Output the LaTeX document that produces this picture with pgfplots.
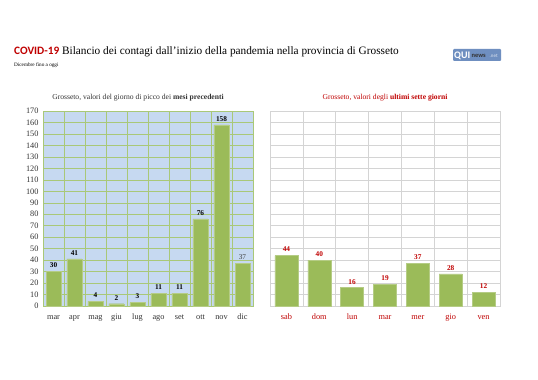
\documentclass[border=0pt]{standalone}
\usepackage{pgfplots}
\pgfplotsset{compat=1.18}
\usepackage{fontspec}
\setmainfont{Liberation Serif}
\newfontfamily\calfont{Carlito}
\definecolor{barg}{HTML}{9BBB59}
\definecolor{baredge}{HTML}{B5CC85}
\definecolor{bgblue}{HTML}{C6D9F1}
\definecolor{gridg}{HTML}{A9C878}
\definecolor{covred}{HTML}{C00000}
\definecolor{gridgray}{HTML}{D4D4D4}
\definecolor{logoblue}{HTML}{6F8FC0}
\begin{document}
\begin{tikzpicture}[x=1pt,y=1pt]
\path[fill=white] (0,0) rectangle (538,380);
% titles
\node[anchor=base west, inner sep=0, font=\fontsize{11.3}{13}\selectfont] at (14,325) {{\calfont\bfseries\color{covred}COVID-19} Bilancio dei contagi dall'inizio della pandemia nella provincia di Grosseto};
\node[anchor=base west, inner sep=0, font=\fontsize{5.2}{6}\selectfont] at (14,313.5) {Dicembre fino a oggi};
% logo
\fill[logoblue, rounded corners=1pt] (453,319) rectangle (501,331);
\node[anchor=base west, inner sep=0, font=\calfont\bfseries\fontsize{10}{10}\selectfont, text=white] at (454,321) {QUI};
\node[anchor=base west, inner sep=0, font=\calfont\bfseries\fontsize{6.5}{6}\selectfont, text=black!80] at (471.5,322) {news};
\node[anchor=base west, inner sep=0, font=\calfont\fontsize{5}{5}\selectfont, text=white!75!logoblue] at (489.5,322) {.net};
% panel titles
\node[anchor=base, inner sep=0, font=\fontsize{7.6}{8}\selectfont, text=black!80] at (138,280.5) {Grosseto, valori del giorno di picco dei \textbf{mesi precedenti}};
\node[anchor=base, inner sep=0, font=\fontsize{7.6}{8}\selectfont, text=covred] at (385,280.5) {Grosseto, valori degli \textbf{ultimi sette giorni}};
% left axis
\begin{axis}[at={(43pt,74pt)}, anchor=south west, scale only axis,
  width=210pt, height=195pt,
  ymin=0, ymax=170, ytick={0,10,...,170},
  xmin=-0.5, xmax=9.5, xtick={0,...,9},
  xticklabels={mar,apr,mag,giu,lug,ago,set,ott,nov,dic},
  minor xtick={-0.5,0.5,...,9.5},
  ymajorgrids, xminorgrids,
  grid style={gridg, line width=0.5pt},
  minor grid style={gridg, line width=0.5pt},
  axis line style={gridg},
  axis background/.style={fill=bgblue},
  major tick length=0pt, minor tick length=0pt,
  tick label style={font=\fontsize{8.3}{9}\selectfont, text=black!80},
  /pgf/number format/assume math mode=true,
  yticklabel style={xshift=-1pt},
  xticklabel style={yshift=-3pt, text height=1.6ex, text depth=0.4ex},
  ybar, bar width=15pt,
  nodes near coords,
  every node near coord/.append style={font=\bfseries\fontsize{7.3}{8}\selectfont, text=black, /pgf/number format/assume math mode=true},
  clip=false]
\addplot[fill=barg, draw=baredge, bar shift=0pt] coordinates {(0,30) (1,41) (2,4) (3,2) (4,3) (5,11) (6,11) (7,76) (8,158)};
\addplot[fill=barg, draw=baredge, bar shift=0pt, every node near coord/.append style={font=\mdseries\fontsize{7.3}{8}\selectfont, text=black!75}] coordinates {(9,37)};
\end{axis}
% right axis
\begin{axis}[at={(270pt,74pt)}, anchor=south west, scale only axis,
  width=230pt, height=195pt,
  ymin=0, ymax=170, ytick={0,10,...,170}, yticklabels={},
  xmin=-0.5, xmax=6.5, xtick={0,...,6},
  xticklabels={sab,dom,lun,mar,mer,gio,ven},
  minor xtick={-0.5,0.5,...,6.5},
  ymajorgrids, xminorgrids,
  grid style={gridgray, line width=0.5pt},
  minor grid style={gridgray, line width=0.5pt},
  axis line style={gridgray},
  major tick length=0pt, minor tick length=0pt,
  tick label style={font=\fontsize{8.3}{9}\selectfont, text=covred},
  xticklabel style={yshift=-3pt, text height=1.6ex, text depth=0.4ex},
  ybar, bar width=23pt,
  nodes near coords,
  every node near coord/.append style={font=\bfseries\fontsize{7.3}{8}\selectfont, text=covred, /pgf/number format/assume math mode=true},
  clip=false]
\addplot[fill=barg, draw=baredge, bar shift=0pt] coordinates {(0,44) (1,40) (2,16) (3,19) (4,37) (5,28) (6,12)};
\end{axis}
\end{tikzpicture}
\end{document}
